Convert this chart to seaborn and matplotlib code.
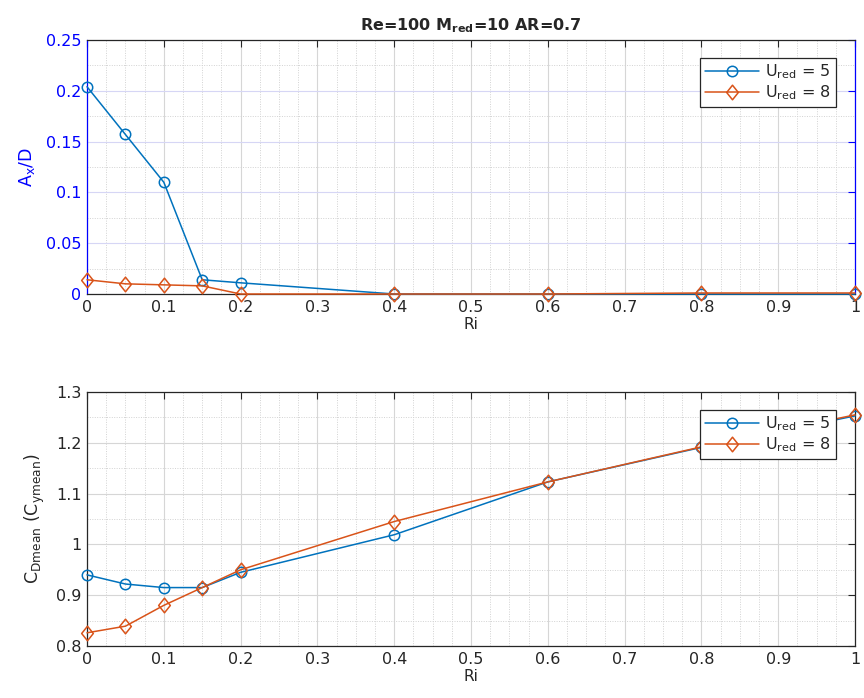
import numpy as np
import pandas as pd
import matplotlib
matplotlib.use("Agg")
import matplotlib.pyplot as plt
import seaborn as sns
from matplotlib.path import Path
from matplotlib.ticker import MultipleLocator, FuncFormatter

# Richardson numbers
ri = [0, 0.05, 0.1, 0.15, 0.2, 0.4, 0.6, 0.8, 1.0]

# Streamwise amplitude A_x/D
ax_u5 = [0.204, 0.157, 0.110, 0.014, 0.011, 0.0, 0.0, 0.0, 0.0]
ax_u8 = [0.014, 0.010, 0.009, 0.008, 0.0, 0.0, 0.0, 0.001, 0.001]

# Mean drag coefficient
cd_u5 = [0.940, 0.922, 0.915, 0.915, 0.945, 1.019, 1.123, 1.191, 1.253]
cd_u8 = [0.826, 0.839, 0.880, 0.915, 0.950, 1.045, 1.123, 1.192, 1.255]

series_labels = [r"U$_{\mathrm{red}}$ = 5", r"U$_{\mathrm{red}}$ = 8"]
x_ticks = [0, 0.1, 0.2, 0.3, 0.4, 0.5, 0.6, 0.7, 0.8, 0.9, 1.0]

C_BLUE = "#0072BD"
C_ORANGE = "#D95319"
AX_BLUE = "#0000FF"

# slightly tall diamond marker
DIAMOND = Path([(0, 1), (0.8, 0), (0, -1), (-0.8, 0), (0, 1)],
               [Path.MOVETO, Path.LINETO, Path.LINETO, Path.LINETO, Path.CLOSEPOLY])

sns.set_theme(style="white")
plt.rcParams["font.family"] = ["DejaVu Sans"]
plt.rcParams["mathtext.fontset"] = "dejavusans"

fig = plt.figure(figsize=(8.64, 6.98), dpi=100)
ax1 = fig.add_axes([0.1007, 0.5788, 0.8889, 0.3639])
ax2 = fig.add_axes([0.1007, 0.0745, 0.8889, 0.3639])

fmt = FuncFormatter(lambda v, p: f"{v:g}")


def draw(ax, y5, y8):
    df5 = pd.DataFrame({"Ri": ri, "val": y5})
    df8 = pd.DataFrame({"Ri": ri, "val": y8})
    sns.lineplot(data=df5, x="Ri", y="val", ax=ax, color=C_BLUE, marker="o",
                 markersize=7.5, markerfacecolor="none", markeredgecolor=C_BLUE,
                 markeredgewidth=1.1, linewidth=1.1, label=series_labels[0],
                 clip_on=False, zorder=4)
    sns.lineplot(data=df8, x="Ri", y="val", ax=ax, color=C_ORANGE, marker=DIAMOND,
                 markersize=10.5, markerfacecolor="none", markeredgecolor=C_ORANGE,
                 markeredgewidth=1.1, linewidth=1.1, label=series_labels[1],
                 clip_on=False, zorder=4)
    ax.set_xlim(0, 1)
    ax.set_xticks(x_ticks)
    ax.xaxis.set_major_formatter(fmt)
    ax.yaxis.set_major_formatter(fmt)
    ax.xaxis.set_minor_locator(MultipleLocator(0.025))
    ax.set_xlabel("Ri", fontsize=11, labelpad=2)
    ax.tick_params(which="major", direction="in", length=5, width=0.8,
                   top=True, right=True, labelsize=11.5, pad=4, color="#262626")
    ax.tick_params(which="minor", length=0)
    ax.grid(which="major", color="#D6D6D6", linewidth=0.8)
    ax.grid(which="minor", color="#D2D2D2", linewidth=0.7, linestyle=(0, (1, 1.5)))
    ax.set_axisbelow(True)
    for s in ax.spines.values():
        s.set_color("#262626")
        s.set_linewidth(0.9)
    leg = ax.legend(loc="upper right", bbox_to_anchor=(0.975, 0.93),
                    fontsize=11.5, frameon=True, fancybox=False, framealpha=1,
                    edgecolor="#262626", borderpad=0.3, handlelength=3.4,
                    labelspacing=0.15, handletextpad=0.4, borderaxespad=0)
    leg.get_frame().set_linewidth(0.9)


draw(ax1, ax_u5, ax_u8)
ax1.set_ylim(0, 0.25)
ax1.set_yticks([0, 0.05, 0.1, 0.15, 0.2, 0.25])
ax1.yaxis.set_minor_locator(MultipleLocator(0.025))
ax1.set_ylabel(r"A$_\mathrm{x}$/D", color=AX_BLUE, fontsize=12.5, labelpad=6)
ax1.tick_params(axis="y", colors=AX_BLUE, which="both")
ax1.tick_params(axis="y", which="minor", length=0)
ax1.spines["left"].set_color(AX_BLUE)
ax1.spines["right"].set_color(AX_BLUE)
ax1.grid(axis="y", which="major", color="#D6D6F5", linewidth=0.8)
ax1.set_title(r"Re=100 M$_{\mathbf{red}}$=10 AR=0.7", fontsize=11.5,
              fontweight="bold", pad=7)

draw(ax2, cd_u5, cd_u8)
ax2.set_ylim(0.8, 1.3)
ax2.set_yticks([0.8, 0.9, 1.0, 1.1, 1.2, 1.3])
ax2.yaxis.set_minor_locator(MultipleLocator(0.05))
ax2.set_ylabel(r"C$_\mathrm{Dmean}$ (C$_\mathrm{ymean}$)", fontsize=12.5, labelpad=6)

fig.savefig("out.png", dpi=100)
